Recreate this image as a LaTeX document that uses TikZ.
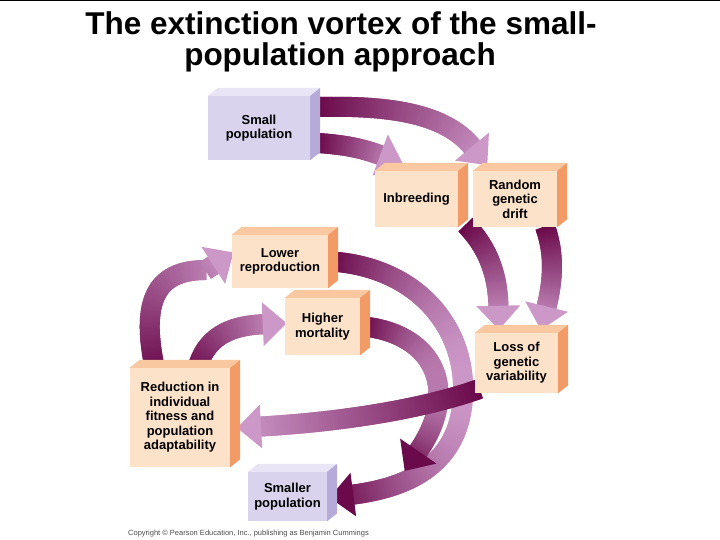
\documentclass[tikz,border=0pt]{standalone}
\usepackage{fontspec}
\setmainfont{Liberation Sans}
\usetikzlibrary{decorations.markings}

\definecolor{peachfront}{HTML}{FDE2CA}
\definecolor{peachtop}{HTML}{F9C8A0}
\definecolor{peachside}{HTML}{F39B66}
\definecolor{lilacfront}{HTML}{DAD3EE}
\definecolor{lilactop}{HTML}{E9E4F6}
\definecolor{lilacside}{HTML}{B6AAD9}
\definecolor{vortexdark}{HTML}{6B0A4B}
\definecolor{vortexlight}{HTML}{CC98C8}

\pgfdeclarelayer{background}
\pgfsetlayers{background,main}

\newcommand\boxfaces[3]{%
  \fill[#2] (#1.north west) -- ++(10,-8) -- ([shift={(10,-8)}]#1.north east) -- (#1.north east) -- cycle;
  \fill[#3] (#1.north east) -- ++(10,-8) -- ([shift={(10,-8)}]#1.south east) -- (#1.south east) -- cycle;}

\tikzset{
  vortex/.style={postaction=decorate, decoration={markings,
    mark=between positions 0 and -18pt step 1pt with {
      \pgfmathsetmacro\tpos{\pgfkeysvalueof{/pgf/decoration/mark info/distance from start}/\pgfdecoratedpathlength}
      \pgfmathtruncatemacro\lightpart{100*(#1)}
      \fill[vortexlight!\lightpart!vortexdark] (-1pt,-10pt) rectangle (1pt,10pt);},
    mark=at position -22pt with {
      \def\tpos{1}
      \pgfmathtruncatemacro\lightpart{100*(#1)}
      \fill[vortexlight!\lightpart!vortexdark] (0pt,-22pt) -- (24pt,0pt) -- (0pt,22pt) -- cycle;}}},
  vortex/.default=\tpos
}

\begin{document}
\begin{tikzpicture}[x=1pt,y=-1pt,
  every node/.style={font=\fontsize{13}{14.5}\selectfont\bfseries, align=center, inner sep=0pt},
  peachbox/.style={fill=peachfront},
  lilacbox/.style={fill=lilacfront}]
\useasboundingbox (0,0) rectangle (720,540);
\draw[line width=1.5pt] (0,0.75) -- (720,0.75);

\node[font=\fontsize{31.5}{30}\selectfont\bfseries, anchor=base] (title1) at (341,35) {The extinction vortex of the small-};
\node[font=\fontsize{31.5}{30}\selectfont\bfseries, anchor=base] (title2) at (340,66) {population approach};

\node[lilacbox, minimum width=102, minimum height=64] (small) at (259,128) {Small\\population};
\boxfaces{small}{lilactop}{lilacside}
\node[peachbox, minimum width=83, minimum height=56] (inbreed) at (416.5,199) {Inbreeding};
\boxfaces{inbreed}{peachtop}{peachside}
\node[peachbox, minimum width=84, minimum height=56] (drift) at (515,199) {Random\\genetic\\drift};
\boxfaces{drift}{peachtop}{peachside}
\node[peachbox, minimum width=96, minimum height=53] (lowrep) at (280,261.5) {Lower\\reproduction};
\boxfaces{lowrep}{peachtop}{peachside}
\node[peachbox, minimum width=75, minimum height=57] (highmort) at (322.5,326.5) {Higher\\mortality};
\boxfaces{highmort}{peachtop}{peachside}
\node[peachbox, minimum width=83, minimum height=60] (loss) at (516.5,363) {Loss of\\genetic\\variability};
\boxfaces{loss}{peachtop}{peachside}
\node[peachbox, minimum width=100, minimum height=99] (reduct) at (180,417.5) {Reduction in\\individual\\fitness and\\population\\adaptability};
\boxfaces{reduct}{peachtop}{peachside}
\node[lilacbox, minimum width=79, minimum height=49] (smaller) at (287.5,496.5) {Smaller\\population};
\boxfaces{smaller}{lilactop}{lilacside}

\node[font=\fontsize{7.5}{8}\selectfont, text=black!70, anchor=base west] (credit) at (128,535)
  {Copyright © Pearson Education, Inc., publishing as Benjamin Cummings};

\begin{pgfonlayer}{background}
\path[vortex] ([shift={(8,15)}]small.east) .. controls (345,145) and (368,148) .. ([shift={(-16,-7)}]inbreed.north);
\path[vortex] ([shift={(8,-21)}]small.east) .. controls (400,105) and (462,116) .. ([shift={(-32,-6)}]drift.north);
\path[vortex] ([shift={(8,-2)}]inbreed.south east) .. controls (490,250) and (502,282) .. ([shift={(-19,-5)}]loss.north);
\path[vortex] ([xshift=-12]drift.south east) .. controls (557,260) and (552,292) .. ([shift={(24,-5)}]loss.north);
\path[vortex={sin(180*\tpos)}] ([xshift=4]lowrep.east) .. controls (420,268) and (466,330) .. (463,395)
  .. controls (460,470) and (400,492) .. ([xshift=6]smaller.east);
\path[vortex={0.8*sin(180*\tpos)}] ([xshift=4]highmort.east) .. controls (440,335) and (465,400) .. ([shift={(78,-4)}]smaller.north east);
\path[vortex] ([shift={(4,-4)}]loss.south west) .. controls (420,410) and (330,424) .. ([shift={(10,10)}]reduct.east);
\path[vortex] ([shift={(-24,6)}]reduct.north) .. controls (138,295) and (160,270) .. (206,270) -- ([yshift=8]lowrep.west);
\path[vortex] ([shift={(16,6)}]reduct.north) .. controls (205,330) and (240,322) .. ([yshift=2]highmort.west);
\end{pgfonlayer}
\end{tikzpicture}
\end{document}
